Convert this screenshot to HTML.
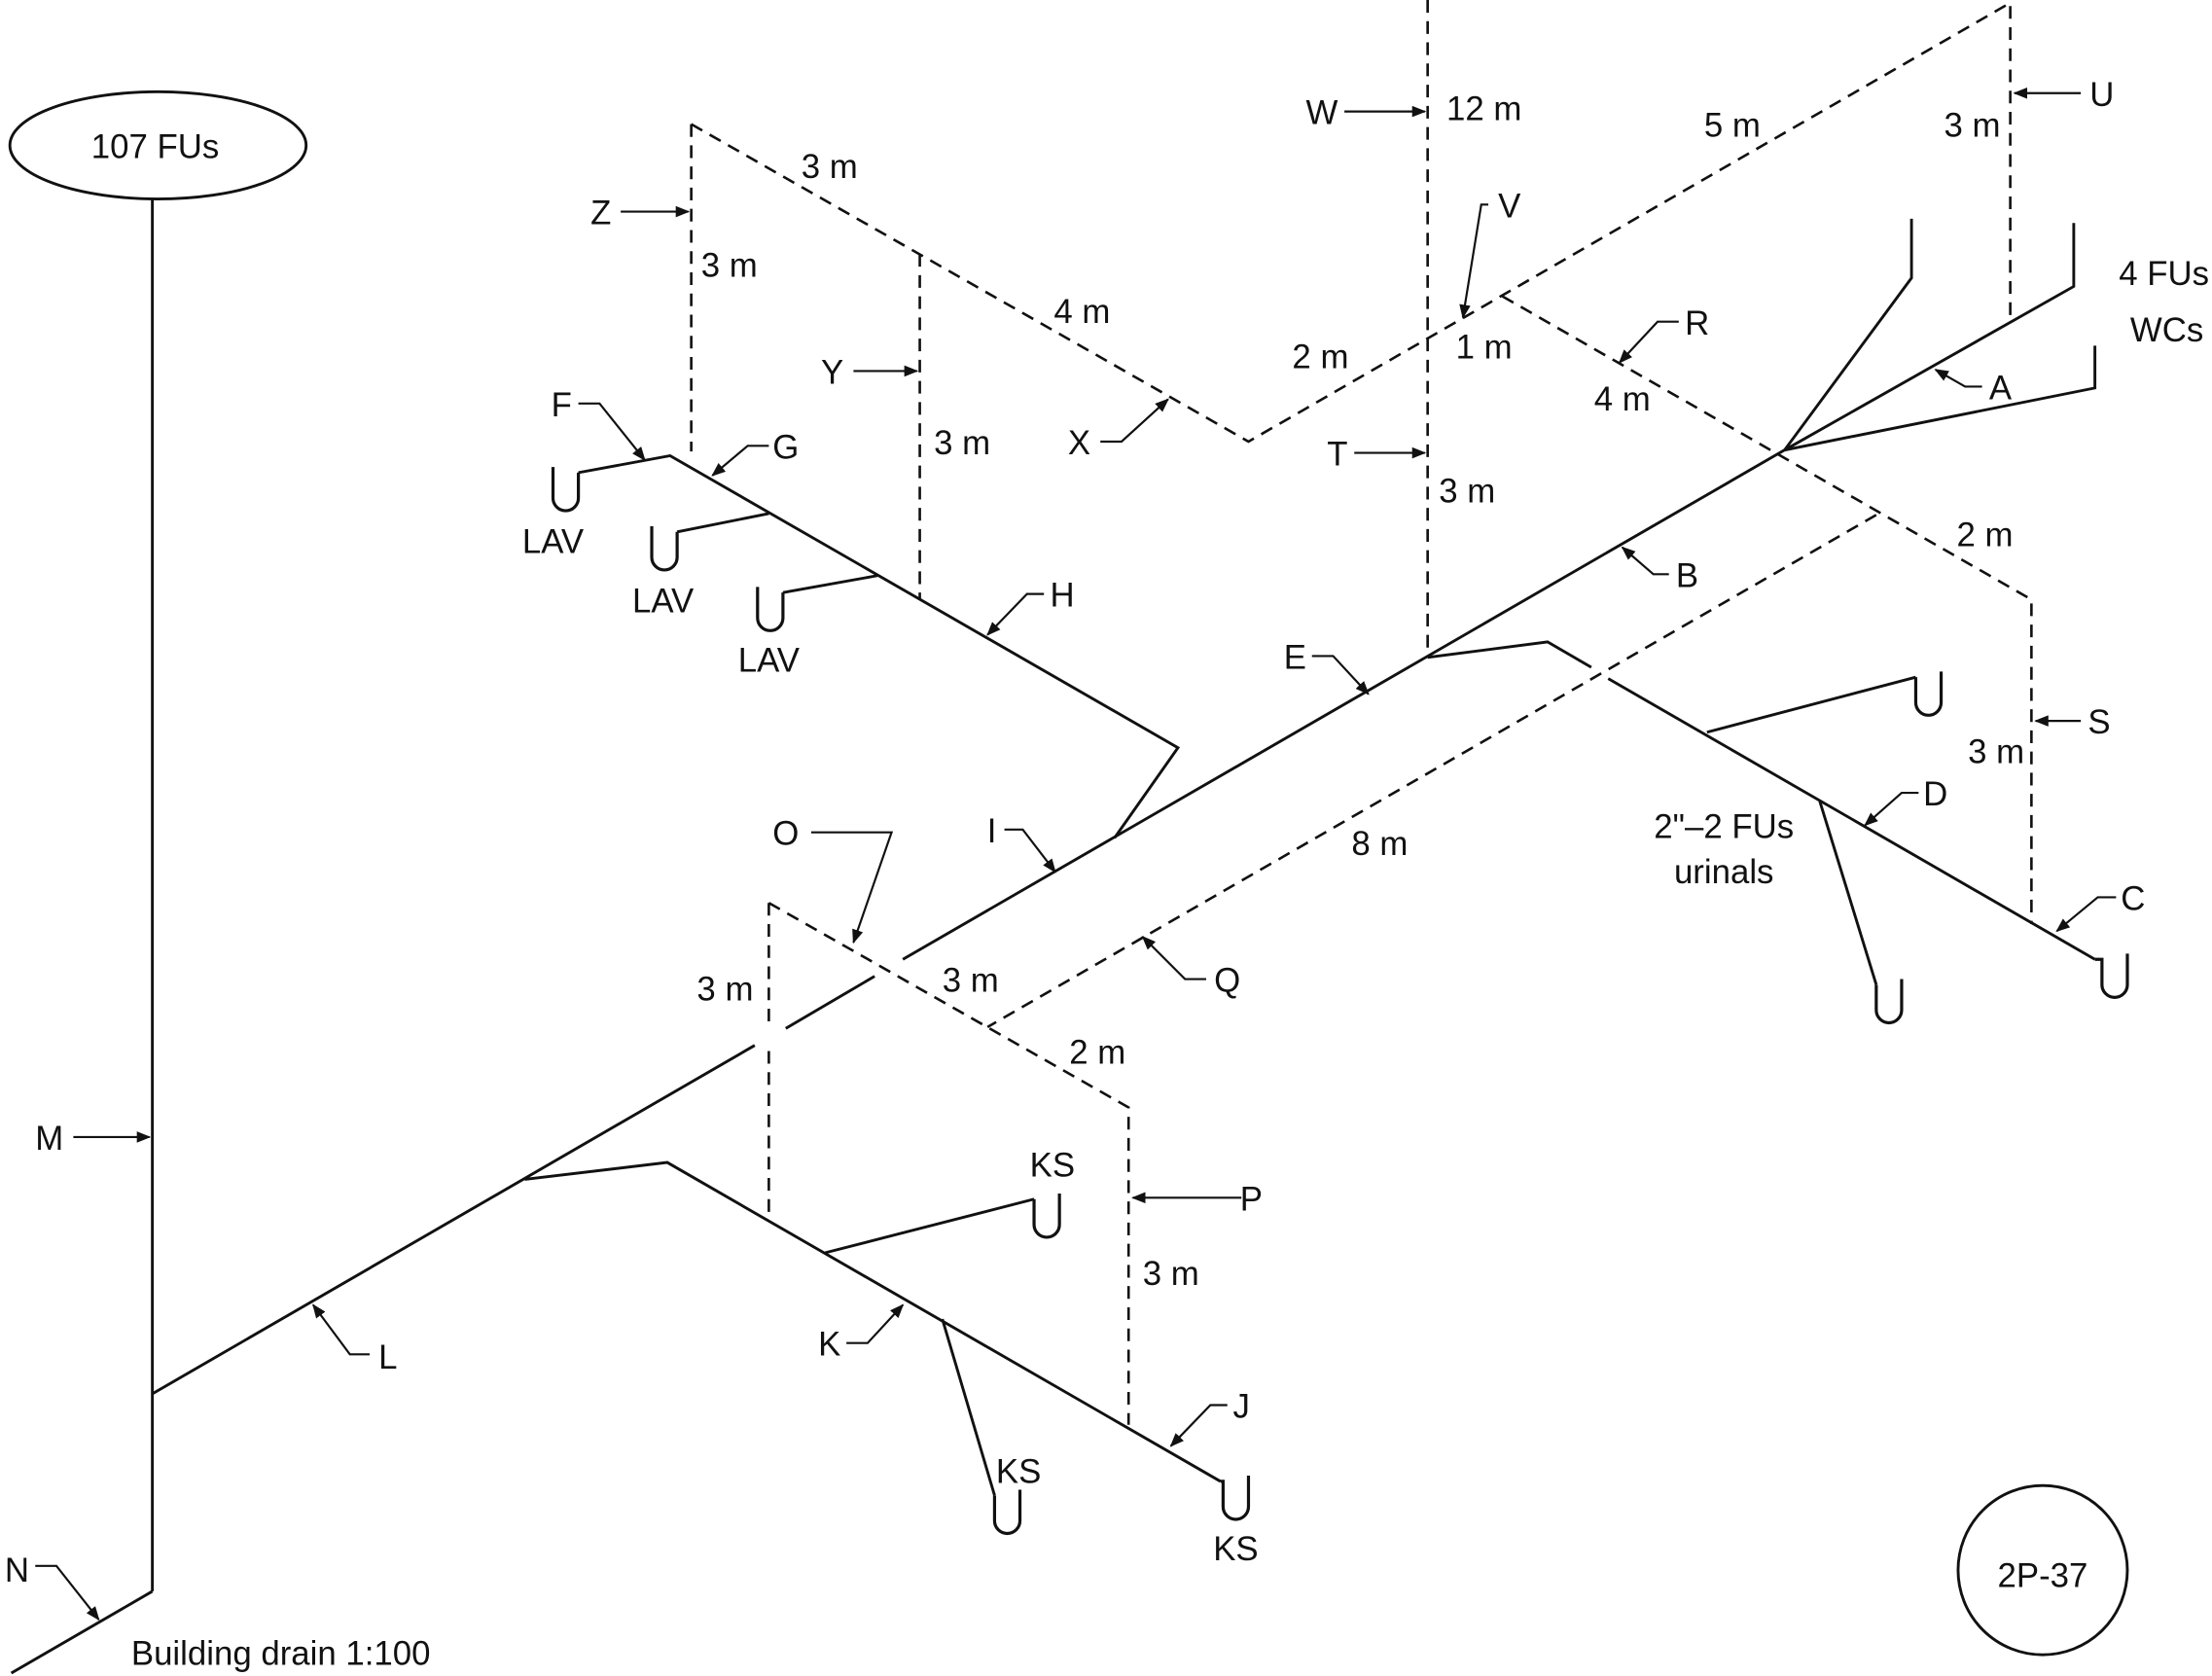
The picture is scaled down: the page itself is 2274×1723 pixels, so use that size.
<!DOCTYPE html>
<html><head><meta charset="utf-8"><style>
html,body{margin:0;padding:0;background:#fff;}
svg{display:block;}
text{font-family:"Liberation Sans",sans-serif;font-size:24px;fill:#111;}
</style></head><body>
<svg width="2274" height="1723" viewBox="0 0 1568 1188" xmlns="http://www.w3.org/2000/svg">
<defs>
<marker id="ar" markerWidth="10" markerHeight="8" refX="9" refY="4" orient="auto" markerUnits="userSpaceOnUse">
<path d="M0,0 L10,4 L0,8 z" fill="#111"/></marker>
</defs>
<g fill="none" stroke="#111" stroke-width="2">
<ellipse cx="112" cy="103" rx="105" ry="38"/>
<line x1="108" y1="141" x2="108" y2="1128"/>
<line x1="108" y1="1128" x2="8" y2="1186"/>
<line x1="108" y1="988" x2="535" y2="741"/>
<line x1="557" y1="729" x2="620" y2="692"/>
<line x1="640" y1="680" x2="1265" y2="319"/>
<polyline points="1265,319 1355,197 1355,155"/>
<polyline points="1265,319 1470,203 1470,158"/>
<polyline points="1265,319 1485,275 1485,245"/>
<polyline points="1012,466 1097,455 1128,473"/>
<line x1="1140" y1="481" x2="1485" y2="680"/>
<polyline points="1210,519 1358,480"/>
<polyline points="1290,568 1330,698"/>
<polyline points="790,594 835,530 475,323 410,335"/>
<line x1="545" y1="364" x2="480" y2="377"/>
<line x1="622" y1="408" x2="555" y2="420"/>
<polyline points="372,836 473,824 865,1050"/>
<line x1="585" y1="888" x2="733" y2="850"/>
<line x1="668" y1="935" x2="705" y2="1060"/>
</g>
<!-- traps -->
<g fill="none" stroke="#111" stroke-width="2.2">
<path d="M410,335 v18 a9 9 0 0 1 -18 0 v-22"/>
<path d="M480,377 v18 a9 9 0 0 1 -18 0 v-22"/>
<path d="M555,420 v18 a9 9 0 0 1 -18 0 v-22"/>
<path d="M1358,480 v18 a9 9 0 0 0 18 0 v-22"/>
<path d="M1330,698 v18 a9 9 0 0 0 18 0 v-22"/>
<path d="M1485,680 h5 v18 a9 9 0 0 0 18 0 v-22"/>
<path d="M733,850 v18 a9 9 0 0 0 18 0 v-22"/>
<path d="M705,1060 v18 a9 9 0 0 0 18 0 v-22"/>
<path d="M865,1050 h2 v18 a9 9 0 0 0 18 0 v-22"/>
</g>
<g fill="none" stroke="#111" stroke-width="1.8" stroke-dasharray="9,6">
<line x1="490" y1="88" x2="490" y2="320"/>
<polyline points="490,88 885,313 1425,2 1425,225"/>
<line x1="652" y1="180" x2="652" y2="425"/>
<line x1="1012" y1="0" x2="1012" y2="466"/>
<polyline points="1065,210 1440,425 1440,655"/>
<line x1="1330" y1="365" x2="700" y2="728"/>
<polyline points="545,640 800,785 800,1010"/>
<line x1="545" y1="640" x2="545" y2="728"/>
<line x1="545" y1="745" x2="545" y2="865"/>
</g>
<g fill="none" stroke="#111" stroke-width="1.5" marker-end="url(#ar)">
<polyline points="52,806 106,806"/>
<polyline points="25,1110 40,1110 70,1148"/>
<polyline points="262,960 248,960 222,925"/>
<polyline points="600,952 615,952 640,925"/>
<polyline points="870,996 858,996 830,1025"/>
<polyline points="880,849 803,849"/>
<polyline points="855,694 840,694 810,664"/>
<polyline points="575,590 632,590 605,668"/>
<polyline points="712,588 725,588 748,618"/>
<polyline points="930,465 945,465 970,492"/>
<polyline points="740,421 728,421 700,450"/>
<polyline points="545,316 530,316 505,337"/>
<polyline points="410,286 425,286 457,326"/>
<polyline points="780,313 795,313 828,283"/>
<polyline points="605,263 650,263"/>
<polyline points="440,150 488,150"/>
<polyline points="953,79 1010,79"/>
<polyline points="960,321 1010,321"/>
<polyline points="1055,145 1050,145 1037,225"/>
<polyline points="1190,228 1175,228 1148,257"/>
<polyline points="1475,66 1428,66"/>
<polyline points="1405,274 1393,274 1372,262"/>
<polyline points="1183,407 1172,407 1150,388"/>
<polyline points="1475,511 1443,511"/>
<polyline points="1360,562 1348,562 1322,585"/>
<polyline points="1500,636 1487,636 1458,660"/>
</g>
<g text-anchor="middle">
<text x="110" y="112">107 FUs</text>
<text x="35" y="815">M</text>
<text x="12" y="1121">N</text>
<text x="275" y="970">L</text>
<text x="588" y="961">K</text>
<text x="880" y="1005">J</text>
<text x="887" y="858">P</text>
<text x="870" y="703">Q</text>
<text x="557" y="599" font-size="26">O</text>
<text x="703" y="597">I</text>
<text x="918" y="474">E</text>
<text x="753" y="430">H</text>
<text x="557" y="325">G</text>
<text x="398" y="295">F</text>
<text x="765" y="322">X</text>
<text x="590" y="272">Y</text>
<text x="426" y="159">Z</text>
<text x="937" y="88">W</text>
<text x="948" y="330">T</text>
<text x="1070" y="154">V</text>
<text x="1203" y="237">R</text>
<text x="1490" y="75">U</text>
<text x="1418" y="283">A</text>
<text x="1196" y="416">B</text>
<text x="1488" y="520">S</text>
<text x="1372" y="571">D</text>
<text x="1512" y="645">C</text>
<text x="588" y="126">3 m</text>
<text x="517" y="196">3 m</text>
<text x="767" y="229">4 m</text>
<text x="682" y="322">3 m</text>
<text x="936" y="261">2 m</text>
<text x="1052" y="254">1 m</text>
<text x="1052" y="85">12 m</text>
<text x="1228" y="97">5 m</text>
<text x="1398" y="97">3 m</text>
<text x="1150" y="291">4 m</text>
<text x="1040" y="356">3 m</text>
<text x="1407" y="387">2 m</text>
<text x="1415" y="541">3 m</text>
<text x="978" y="606">8 m</text>
<text x="514" y="709">3 m</text>
<text x="688" y="703">3 m</text>
<text x="778" y="754">2 m</text>
<text x="830" y="911">3 m</text>
<text x="1222" y="594">2"–2 FUs</text>
<text x="1222" y="626">urinals</text>
<text x="392" y="392">LAV</text>
<text x="470" y="434">LAV</text>
<text x="545" y="476">LAV</text>
<text x="746" y="834">KS</text>
<text x="722" y="1051">KS</text>
<text x="876" y="1106">KS</text>
<text x="1448" y="1125" font-size="34">2P-37</text>
</g>
<g text-anchor="end">
<text x="1566" y="202">4 FUs</text>
<text x="1562" y="242">WCs</text>
</g>
<text x="93" y="1180">Building drain 1:100</text>
<circle cx="1448" cy="1113" r="60" fill="none" stroke="#111" stroke-width="2"/>
</svg>
</body></html>
